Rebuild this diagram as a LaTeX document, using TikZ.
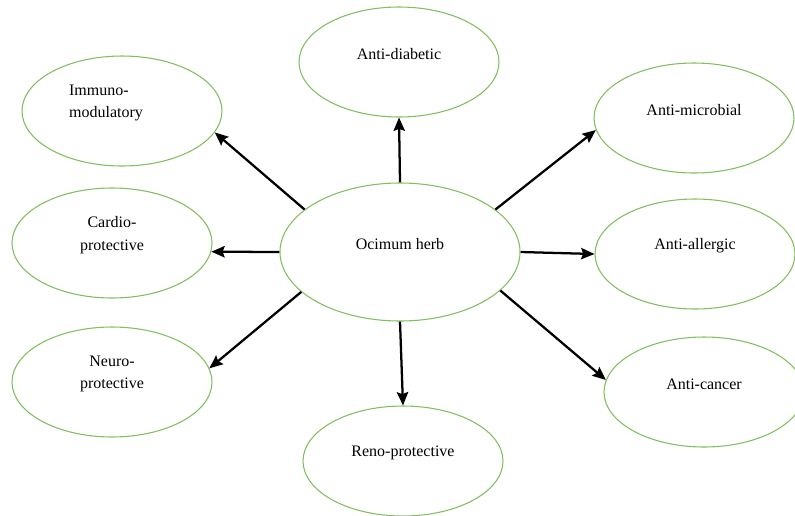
\documentclass[tikz,border=0pt]{standalone}
\usepackage{fontspec}
\setmainfont{Liberation Serif}
\usetikzlibrary{shapes.geometric,arrows.meta}
\definecolor{leafgreen}{RGB}{130,190,95}

\begin{document}
\begin{tikzpicture}[x=0.75pt, y=-0.75pt,
    bubble/.style={draw=leafgreen, line width=0.8pt, ellipse, inner sep=0pt, minimum width=150pt, minimum height=82.5pt},
    lbl/.style={font=\fontsize{12}{17}\selectfont, align=center, yshift=6pt},
    arr/.style={line width=1.7pt, -{Stealth[length=10pt, width=8.5pt, inset=1.5pt]}}]

 \useasboundingbox (0,0) rectangle (795,515);

	%centre
 \node[bubble, minimum width=180pt, minimum height=103.5pt, label={[lbl]center:Ocimum herb}] (herb) at (400,252) {};

	%effects
    \foreach \name/\px/\py/\txt in {diab/399/62/{Anti-diabetic}, micro/694/118/{Anti-microbial}, cardio/112/243/{Cardio-\\protective}, allerg/695/254/{Anti-allergic}, neuro/112/382/{Neuro-\\protective}, cancer/704/392/{Anti-cancer}, reno/403/461/{Reno-protective}}{
           \node[bubble, label={[lbl]center:\txt}] (\name) at (\px,\py) {};
    }
 \node[bubble, label={[lbl, align=left, xshift=-12pt]center:Immuno-\\modulatory}] (immuno) at (122,111) {};

	%arrows
    \foreach \to/\a/\b in {immuno/156/347, diab/90/270, micro/24/187, cardio/180/355, allerg/0/180, neuro/202/8, cancer/339/173, reno/270/90}{
         \draw[arr] (herb.\a) -- (\to.\b);
    }

\end{tikzpicture}
\end{document}
